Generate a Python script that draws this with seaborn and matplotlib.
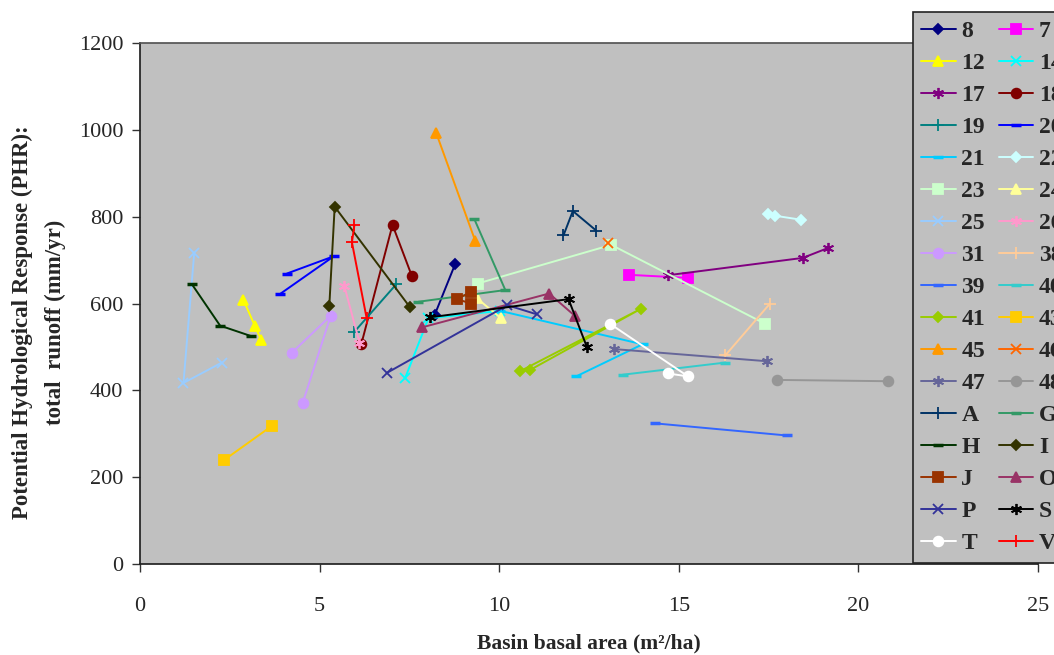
# PHR vs basin basal area, one line per basin

import matplotlib
matplotlib.use("Agg")
import matplotlib.pyplot as plt
import seaborn as sns

# values (x = basal area m2/ha, y = runoff mm/yr)
s8_x = [8.20, 8.77];                s8_y = [573, 690]
s7_x = [13.62, 15.26];              s7_y = [666, 659]
s12_x = [2.88, 3.20, 3.37];         s12_y = [608, 548, 517]
s14_x = [7.38, 8.03, 10.03];        s14_y = [428, 566, 583]
s17_x = [14.69, 18.45, 19.16];      s17_y = [665, 705, 728]
s18_x = [6.16, 7.03, 7.57];         s18_y = [506, 781, 663]
s19_x = [5.97, 7.13];               s19_y = [535, 644]
s20_x = [4.09, 5.40, 3.90];         s20_y = [669, 709, 622]
s21_x = [10.03, 13.99, 12.14];      s21_y = [583, 506, 432]
s22_x = [17.47, 17.69, 18.40];      s22_y = [806, 802, 793]
s23_x = [9.40, 13.12, 17.41];       s23_y = [646, 735, 553]
s24_x = [9.38, 10.05];              s24_y = [612, 566]
s25_x = [1.51, 1.21, 2.28];         s25_y = [717, 417, 464]
s26_x = [5.69, 6.11];               s26_y = [640, 510]
s31_x = [4.22, 5.31, 4.53];         s31_y = [486, 572, 371]
s38_x = [16.30, 17.53];             s38_y = [481, 599]
s39_x = [14.33, 18.01];             s39_y = [324, 296]
s40_x = [13.44, 16.30];             s40_y = [436, 464]
s41_x = [10.58, 13.95, 10.86];      s41_y = [444, 588, 447]
s43_x = [2.35, 3.67];               s43_y = [240, 318]
s45_x = [8.25, 9.33];               s45_y = [992, 745]
s46_x = [13.03];                    s46_y = [740]
s47_x = [13.20, 17.46];             s47_y = [495, 467]
s48_x = [17.73, 20.82];             s48_y = [424, 421]
sA_x = [11.79, 12.05, 12.70];       sA_y = [757, 813, 768]
sG_x = [7.75, 10.17, 9.31];         sG_y = [604, 631, 794]
sH_x = [1.44, 2.23, 3.09];          sH_y = [645, 549, 525]
sI_x = [5.27, 5.42, 7.52];          sI_y = [594, 823, 591]
sJ_x = [9.22, 8.82, 9.22];          sJ_y = [627, 610, 600]
sO_x = [7.85, 11.39, 12.10];        sO_y = [545, 623, 572]
sP_x = [6.87, 10.23, 11.05];        sP_y = [440, 596, 575]
sS_x = [8.06, 11.93, 12.44];        sS_y = [568, 610, 500]
sT_x = [13.09, 15.26, 14.69];       sT_y = [553, 432, 439]
sV_x = [5.97, 5.90, 6.31];          sV_y = [781, 741, 566]

ast = (6, 2, 0)  # excel style asterisk
series = [
    ("8", s8_x, s8_y, "#000080", "D"),
    ("7", s7_x, s7_y, "#FF00FF", "s"),
    ("12", s12_x, s12_y, "#FFFF00", "^"),
    ("14", s14_x, s14_y, "#00FFFF", "x"),
    ("17", s17_x, s17_y, "#800080", ast),
    ("18", s18_x, s18_y, "#800000", "o"),
    ("19", s19_x, s19_y, "#008080", "+"),
    ("20", s20_x, s20_y, "#0000FF", "_"),
    ("21", s21_x, s21_y, "#00CCFF", "_"),
    ("22", s22_x, s22_y, "#CCFFFF", "D"),
    ("23", s23_x, s23_y, "#CCFFCC", "s"),
    ("24", s24_x, s24_y, "#FFFF99", "^"),
    ("25", s25_x, s25_y, "#99CCFF", "x"),
    ("26", s26_x, s26_y, "#FF99CC", ast),
    ("31", s31_x, s31_y, "#CC99FF", "o"),
    ("38", s38_x, s38_y, "#FFCC99", "+"),
    ("39", s39_x, s39_y, "#3366FF", "_"),
    ("40", s40_x, s40_y, "#33CCCC", "_"),
    ("41", s41_x, s41_y, "#99CC00", "D"),
    ("43", s43_x, s43_y, "#FFCC00", "s"),
    ("45", s45_x, s45_y, "#FF9900", "^"),
    ("46", s46_x, s46_y, "#FF6600", "x"),
    ("47", s47_x, s47_y, "#666699", ast),
    ("48", s48_x, s48_y, "#969696", "o"),
    ("A", sA_x, sA_y, "#003366", "+"),
    ("G", sG_x, sG_y, "#339966", "_"),
    ("H", sH_x, sH_y, "#003300", "_"),
    ("I", sI_x, sI_y, "#333300", "D"),
    ("J", sJ_x, sJ_y, "#993300", "s"),
    ("O", sO_x, sO_y, "#993366", "^"),
    ("P", sP_x, sP_y, "#333399", "x"),
    ("S", sS_x, sS_y, "#000000", ast),
    ("T", sT_x, sT_y, "#FFFFFF", "o"),
    ("V", sV_x, sV_y, "#FF0000", "+"),
]

sns.set_theme(style="ticks")
plt.rcParams["font.family"] = ["Liberation Serif", "DejaVu Serif"]

fig = plt.figure(figsize=(10.54, 6.55), dpi=100)
ax = fig.add_axes([140 / 1054, 1 - 564 / 655, 898 / 1054, 521 / 655])
ax.set_facecolor("#C0C0C0")

sizes = {"D": 5.5, "s": 7, "^": 7, "o": 7, "x": 7, "+": 8, "_": 7}
handles = {}
for name, xs, ys, col, mk in series:
    ms = sizes.get(mk, 8) if isinstance(mk, str) else 8
    mew = 2.5 if mk == "_" else 1.3
    sns.lineplot(x=xs, y=ys, ax=ax, sort=False, estimator=None,
                 color=col, lw=1.4, marker=mk, markersize=ms,
                 markeredgewidth=mew, markeredgecolor=col,
                 markerfacecolor=col, label=name, legend=False)
    handles[name] = ax.lines[-1]

ax.set_xlim(0, 25)
ax.set_ylim(0, 1200)
ax.set_xticks([0, 5, 10, 15, 20, 25])
ax.set_yticks(range(0, 1201, 200))
ax.tick_params(axis="both", labelsize=16, length=6, width=1, color="#333333", pad=6)
ax.tick_params(axis="x", pad=18)
for sp in ax.spines.values():
    sp.set_color("#555555")
ax.spines["left"].set_color("#222222")
ax.spines["bottom"].set_color("#222222")

ax.set_xlabel("Basin basal area (m²/ha)", fontsize=15.5, fontweight="bold", labelpad=12)
ax.set_ylabel("Potential Hydrological Response (PHR):\ntotal  runoff (mm/yr)",
              fontsize=16.5, fontweight="bold", linespacing=1.75)
ax.yaxis.set_label_coords(-0.082, 0.464)

# legend: two columns, filled row by row like excel
names = [s[0] for s in series]
order = names[0::2] + names[1::2]
leg = fig.legend([handles[n] for n in order], order, ncol=2,
                 loc="upper left", bbox_to_anchor=(913 / 1054, 1 - 12 / 655),
                 prop={"weight": "bold", "size": 17},
                 frameon=True, fancybox=False, facecolor="#C0C0C0",
                 edgecolor="#222222", framealpha=1,
                 handlelength=1.45, handletextpad=0.25, columnspacing=0.57,
                 labelspacing=0.445, borderpad=0.35, borderaxespad=0)
leg.get_frame().set_linewidth(1.2)

fig.savefig("out.png", dpi=100)
